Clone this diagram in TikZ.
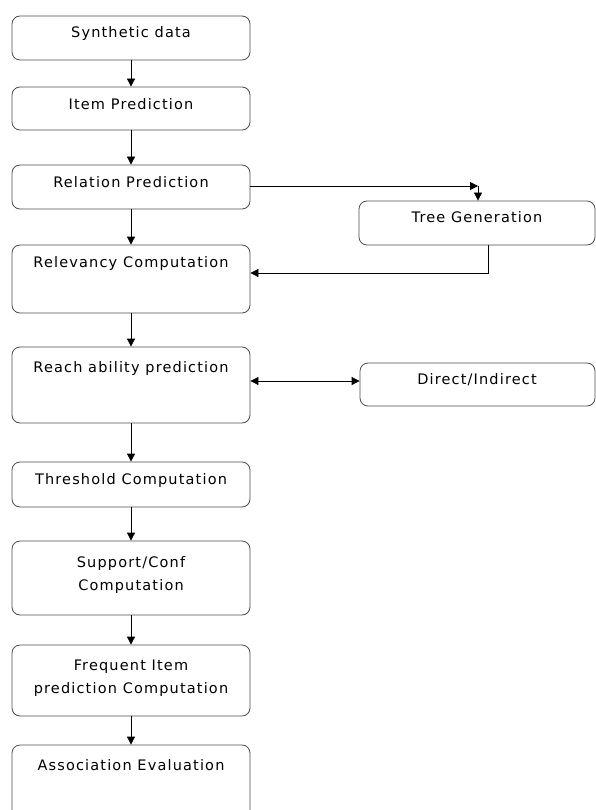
\documentclass[tikz,border=0pt]{standalone}
\usepackage{fontspec}
\setmainfont{DejaVu Sans}[LetterSpace=8]
\usetikzlibrary{arrows.meta}
\begin{document}
\begin{tikzpicture}[x=1pt,y=-1pt,
  box/.style={draw=black!70, line width=0.8pt, rounded corners=8pt, minimum width=238pt, inner sep=0pt},
  txt/.style={font=\fontsize{14.5}{23}\selectfont, align=center, inner sep=0pt, text height=10pt, text depth=3pt},
  txttwo/.style={font=\fontsize{14.5}{23}\selectfont, align=center, inner sep=0pt},
  arr/.style={-{Triangle[length=8pt,width=8pt]}, line width=0.8pt},
  darr/.style={{Triangle[length=8pt,width=8pt]}-{Triangle[length=8pt,width=8pt]}, line width=0.8pt}]
\useasboundingbox (0,0) rectangle (596,810);
\clip (0,0) rectangle (596,810);
% main column boxes
\node[box, minimum height=44pt] (b1) at (131,38) {};
\node[box, minimum height=43pt] (b2) at (131,108.5) {};
\node[box, minimum height=44pt] (b3) at (131,187) {};
\node[box, minimum height=68pt] (b4) at (131,279) {};
\node[box, minimum height=76pt] (b5) at (131,385) {};
\node[box, minimum height=45pt] (b6) at (131,484.5) {};
\node[box, minimum height=74pt] (b7) at (131,578) {};
\node[box, minimum height=71pt] (b8) at (131,680.5) {};
\node[box, minimum height=85pt] (b9) at (131,787.5) {};
% side boxes
\node[box, minimum width=236pt, minimum height=44pt] (tree) at (477,223) {};
\node[box, minimum width=235pt, minimum height=43pt] (dir) at (477.5,384.5) {};
% texts
\node[txt] (t1) at (131,34) {Synthetic data};
\node[txt] (t2) at (131,106) {Item Prediction};
\node[txt] (t3) at (131,184) {Relation Prediction};
\node[txt] (t4) at (131,264) {Relevancy Computation};
\node[txt] (t5) at (131,369) {Reach ability prediction};
\node[txt] (t6) at (131,481) {Threshold Computation};
\node[txttwo] (t7) at (131,575) {Support/Conf\\Computation};
\node[txttwo] (t8) at (131,678) {Frequent Item\\prediction Computation};
\node[txt] (t9) at (131,767) {Association Evaluation};
\node[txt] (ttree) at (477,219) {Tree Generation};
\node[txt] (tdir) at (477,381) {Direct/Indirect};
% vertical arrows
\draw[arr] (b1) -- (b2);
\draw[arr] (b2) -- (b3);
\draw[arr] (b3) -- (b4);
\draw[arr] (b4) -- (b5);
\draw[arr] (b5) -- (b6);
\draw[arr] (b6) -- (b7);
\draw[arr] (b7) -- (b8);
\draw[arr] (b8) -- (b9);
% side connections
\coordinate (c1) at (478,186);
\draw[arr] (b3.east |- c1) -- (c1);
\draw[arr] (c1) -- (c1 |- tree.north);
\coordinate (c2) at (488,273);
\draw[arr] (c2 |- tree.south) -- (c2) -- (c2 -| b4.east);
\coordinate (c3) at (300,381);
\draw[darr] (c3 -| b5.east) -- (c3 -| dir.west);
\end{tikzpicture}
\end{document}
